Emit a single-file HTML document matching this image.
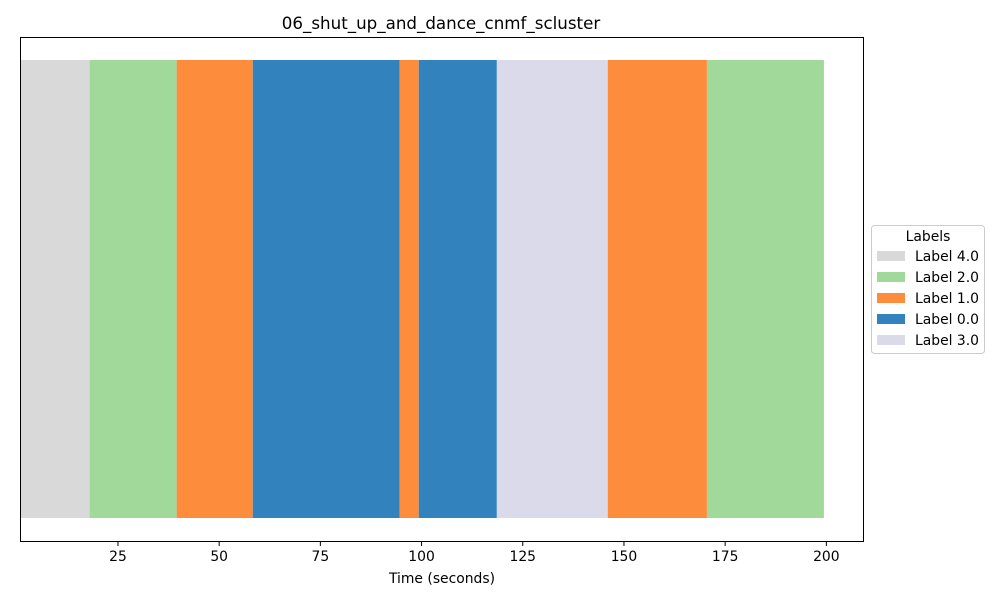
<!DOCTYPE html>
<html><head><meta charset="utf-8"><style>
body{margin:0;background:#fff;font-family:"DejaVu Sans",sans-serif;}
</style></head><body>
<svg width="1000" height="600" xmlns="http://www.w3.org/2000/svg" font-family="DejaVu Sans, sans-serif">
<text x="441" y="29" font-size="16.7" text-anchor="middle">06_shut_up_and_dance_cnmf_scluster</text>
<g id="bars"></g>
<rect x="20.5" y="37.5" width="843" height="504" fill="none" stroke="#000" stroke-width="1"/>
<g id="ticks"></g>
<text x="442" y="583" font-size="13.9" text-anchor="middle">Time (seconds)</text>
<g id="legend">
<rect x="871.5" y="225.5" width="113" height="128" rx="3" fill="#fff" stroke="#ccc"/>
<text x="928" y="241" font-size="13.9" text-anchor="middle">Labels</text>
</g>
</svg>
<script>
const segStarts=[0.8,18.0,39.5,58.3,94.6,99.3,118.6,146.0,170.5];
const segEnds=[18.0,39.5,58.3,94.6,99.3,118.6,146.0,170.5,199.4];
const segLabels=[4,2,1,0,1,0,3,1,2];
const tickVals=[25,50,75,100,125,150,175,200];
const legendLabels=[4,2,1,0,3];
const colors={4:'#d9d9d9',2:'#a1d99b',1:'#fd8d3c',0:'#3182bd',3:'#dadaeb'};
const xmin=0.8,xmax=209.3,L=20,R=864;
const sx=v=>L+(v-xmin)/(xmax-xmin)*(R-L);
const NS='http://www.w3.org/2000/svg';
const bars=document.getElementById('bars');
segStarts.forEach((s,i)=>{
 const r=document.createElementNS(NS,'rect');
 r.setAttribute('x',sx(s));r.setAttribute('width',sx(segEnds[i])-sx(s));
 r.setAttribute('y',60);r.setAttribute('height',458);
 r.setAttribute('fill',colors[segLabels[i]]);
 
 
 bars.appendChild(r);
});
const tg=document.getElementById('ticks');
tickVals.forEach(v=>{
 const x=sx(v);
 const l=document.createElementNS(NS,'line');
 l.setAttribute('x1',x);l.setAttribute('x2',x);l.setAttribute('y1',542);l.setAttribute('y2',546);l.setAttribute('stroke','#000');
 
 
 tg.appendChild(l);
 const t=document.createElementNS(NS,'text');
 t.setAttribute('x',x);t.setAttribute('y',561);t.setAttribute('font-size','13.9');t.setAttribute('text-anchor','middle');
 t.textContent=v;
 
 
 tg.appendChild(t);
});
const lg=document.getElementById('legend');
legendLabels.forEach((lab,i)=>{
 const y=251+i*21;
 const r=document.createElementNS(NS,'rect');
 r.setAttribute('x',877);r.setAttribute('y',y);r.setAttribute('width',28);r.setAttribute('height',10);r.setAttribute('fill',colors[lab]);
 
 
 lg.appendChild(r);
 const t=document.createElementNS(NS,'text');
 t.setAttribute('x',915);t.setAttribute('y',y+10);t.setAttribute('font-size','13.9');
 t.textContent='Label '+lab.toFixed(1);
 
 
 lg.appendChild(t);
});
</script>
</body></html>
